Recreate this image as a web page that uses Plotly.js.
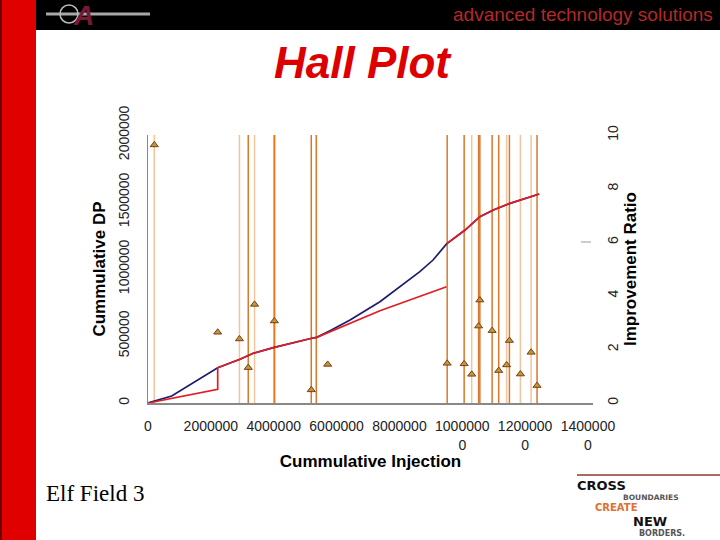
<!DOCTYPE html>
<html>
<head>
<meta charset="utf-8">
<script src="https://cdn.plot.ly/plotly-3.0.1.min.js"></script>
<style>html,body{margin:0;padding:0;background:#fff;}#chart{width:720px;height:540px;}</style>
</head>
<body>
<div id="chart"></div>
<script>
// ---- data ----
var blueX = [0, 754000, 2218000, 2927000, 3350000, 3990000, 5210000, 5370000, 5790000, 6430000, 7380000, 8020000, 8650000, 9070000, 9500000, 10090000, 10560000, 10990000, 11520000, 12450000];
var blueY = [0, 52000, 263000, 326000, 371000, 413000, 483000, 490000, 540000, 619000, 756000, 868000, 980000, 1067000, 1187000, 1291000, 1390000, 1440000, 1490000, 1560000];

var redX = [0, 2218000, 2218000, 2927000, 3350000, 3990000, 5210000, 5370000, 7380000, 9500000, null, 9500000, 10090000, 10560000, 10990000, 11520000, 12450000];
var redY = [0, 102000, 263000, 326000, 371000, 413000, 483000, 490000, 689000, 868000, null, 1187000, 1291000, 1390000, 1440000, 1490000, 1560000];

var ratioX = [200000, 2218000, 2910000, 3190000, 3390000, 4020000, 5195000, 5717000, 9520000, 10060000, 10300000, 10520000, 10560000, 10950000, 11160000, 11410000, 11500000, 11850000, 12190000, 12380000];
var ratioY = [9.63, 2.64, 2.39, 1.32, 3.68, 3.06, 0.49, 1.44, 1.48, 1.46, 1.07, 2.87, 3.84, 2.70, 1.21, 1.42, 2.33, 1.08, 1.89, 0.65];

var lightEvents = [200000, 2910000, 3390000, 10300000, 11410000, 11850000, 12190000];
var darkEvents = [3190000, 5195000, 5355000, 9520000, 10060000, 10520000, 10560000, 10950000, 11160000, 11500000, 12380000];
var brightEvents = [4020000];

var xTickVals = [0, 2000000, 4000000, 6000000, 8000000, 10000000, 12000000, 14000000];
var xTickText = ['0', '2000000', '4000000', '6000000', '8000000', '1000000<br>0', '1200000<br>0', '1400000<br>0'];
var yTickVals = [0, 500000, 1000000, 1500000, 2000000];
var yTickText = ['0', '500000', '1000000', '1500000', '2000000'];
var y2TickVals = [0, 2, 4, 6, 8, 10];
var y2TickText = ['0', '2', '4', '6', '8', '10'];

// ---- helpers ----
var Y_MAX = 2000000;
function vlines(arr) {
  var xs = [], ys = [];
  arr.forEach(function (v) { xs.push(v, v, null); ys.push(0, Y_MAX, null); });
  return { x: xs, y: ys };
}
function px(p) { return (p - 148) / 445; }
function py(q) { return (403 - q) / 268; }
function note(text, x, y, size, color, family, anchor) {
  return { text: text, xref: 'paper', yref: 'paper', x: px(x), y: py(y), xanchor: anchor || 'left', yanchor: 'middle',
    showarrow: false, font: { family: family || 'DejaVu Sans, sans-serif', size: size, color: color } };
}

var L = vlines(lightEvents), D = vlines(darkEvents), B = vlines(brightEvents);

var traces = [
  { x: L.x, y: L.y, mode: 'lines', line: { color: '#f0c49c', width: 1.5 }, hoverinfo: 'skip', showlegend: false },
  { x: D.x, y: D.y, mode: 'lines', line: { color: '#d8782c', width: 1.5 }, hoverinfo: 'skip', showlegend: false },
  { x: B.x, y: B.y, mode: 'lines', line: { color: '#f07818', width: 2 }, hoverinfo: 'skip', showlegend: false },
  { x: blueX, y: blueY, mode: 'lines', line: { color: '#1c1c6e', width: 1.7 }, showlegend: false },
  { x: redX, y: redY, mode: 'lines', line: { color: '#e01c24', width: 1.7 }, connectgaps: false, showlegend: false },
  { x: ratioX, y: ratioY, yaxis: 'y2', mode: 'markers',
    marker: { symbol: 'triangle-up', size: 7, color: '#aea232', line: { color: '#8a3414', width: 1 } }, showlegend: false }
];

var axFont = { family: 'Liberation Sans, Arial, sans-serif', size: 14, color: '#222' };
var titleFont = { family: 'Liberation Sans, Arial, sans-serif', size: 17, color: '#000' };

var layout = {
  width: 720, height: 540,
  margin: { l: 148, r: 127, t: 135, b: 137 },
  paper_bgcolor: '#ffffff', plot_bgcolor: '#ffffff',
  showlegend: false,
  title: { text: '<b><i>Hall Plot</i></b>', x: 362 / 720, y: 1 - 63 / 540, xref: 'container', yref: 'container',
    xanchor: 'center', yanchor: 'middle', font: { family: 'Liberation Sans, Arial, sans-serif', size: 44, color: '#dd0000' } },
  xaxis: {
    range: [0, 14160000], tickvals: xTickVals, ticktext: xTickText, tickangle: 0,
    showgrid: false, zeroline: false, showline: true, linecolor: '#888', linewidth: 1.5, ticks: '',
    ticklabelstandoff: 10, tickfont: axFont,
    title: { text: '<b>Cummulative Injection</b>', font: titleFont, standoff: 0 }
  },
  yaxis: {
    range: [0, Y_MAX], tickvals: yTickVals, ticktext: yTickText, tickangle: -90,
    showgrid: false, zeroline: false, showline: true, linecolor: '#888', linewidth: 1.5, ticks: '',
    ticklabelstandoff: 12, tickfont: axFont,
    title: { text: '<b>Cummulative DP</b>', font: titleFont, standoff: 6 }
  },
  yaxis2: {
    range: [0, 10], tickvals: y2TickVals, ticktext: y2TickText, tickangle: -90, overlaying: 'y', side: 'right',
    showgrid: false, zeroline: false, showline: false, ticks: '',
    ticklabelstandoff: 10, tickfont: axFont,
    title: { text: '<b>Improvement Ratio</b>', font: titleFont, standoff: 4 }
  },
  shapes: [
    { type: 'rect', xref: 'paper', yref: 'paper', x0: px(0), x1: px(36), y0: py(540), y1: py(0), fillcolor: '#e00000', line: { width: 0 } },
    { type: 'line', xref: 'paper', yref: 'paper', x0: px(1), x1: px(1), y0: py(540), y1: py(0), line: { color: '#700000', width: 2 } },
    { type: 'rect', xref: 'paper', yref: 'paper', x0: px(36), x1: px(720), y0: py(30), y1: py(0), fillcolor: '#000000', line: { width: 0 } },
    { type: 'line', xref: 'paper', yref: 'paper', x0: px(46), x1: px(150), y0: py(14), y1: py(14), line: { color: '#a8a8a8', width: 3 } },
    { type: 'circle', xref: 'paper', yref: 'paper', x0: px(60), x1: px(78), y0: py(23), y1: py(5), line: { color: '#bbbbbb', width: 1.5 } },
    { type: 'line', xref: 'paper', yref: 'paper', x0: px(581), x1: px(591), y0: py(242), y1: py(242), line: { color: '#999', width: 1 } },
    { type: 'line', xref: 'paper', yref: 'paper', x0: px(577), x1: px(720), y0: py(475), y1: py(475), line: { color: '#8a3a2a', width: 1.5 } }
  ],
  annotations: [
    note('<b><i>A</i></b>', 83, 15, 28, '#7a1838', 'Liberation Sans, Arial, sans-serif', 'center'),
    note('advanced technology solutions', 715, 14, 19, '#b42828', 'Liberation Sans, Arial, sans-serif', 'right'),
    note('Elf Field 3', 44, 493, 23, '#000', 'Liberation Serif, Times New Roman, serif'),
    note('<b>CROSS</b>', 575, 485, 13, '#111'),
    note('<b>BOUNDARIES</b>', 621, 497, 7.5, '#555'),
    note('<b>CREATE</b>', 593, 507.5, 10, '#e07030'),
    note('<b>NEW</b>', 631, 521, 13, '#111'),
    note('<b>BORDERS.</b>', 637, 533, 8, '#555')
  ]
};

Plotly.newPlot('chart', traces, layout, { staticPlot: true, displayModeBar: false });
</script>
</body>
</html>
